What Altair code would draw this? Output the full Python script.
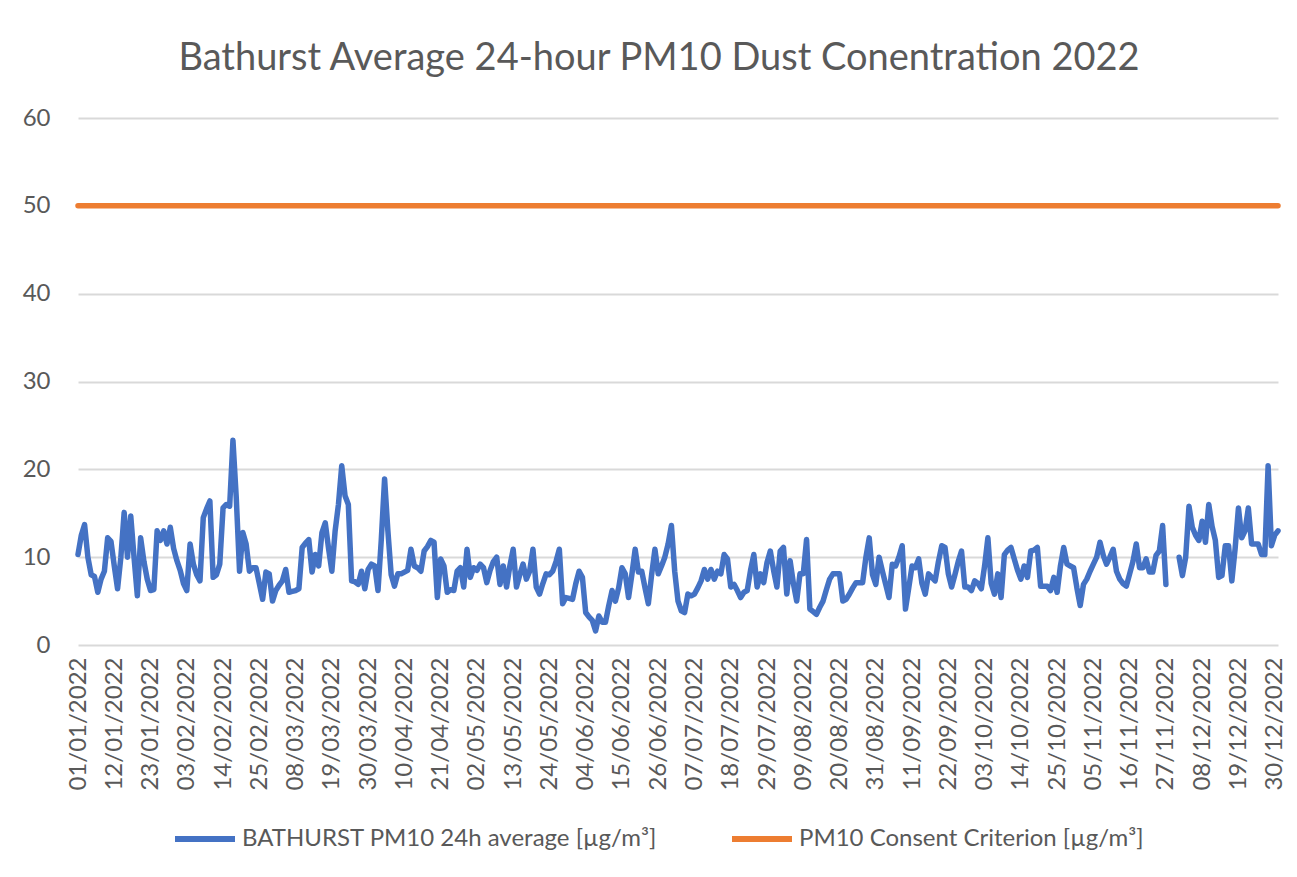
import altair as alt
import pandas as pd

# Daily PM10 24h averages (µg/m³); None = missing day
JAN = [10.3, 12.5, 13.7, 10, 8, 7.8, 6, 7.5, 8.4, 12.2, 11.8, 9, 6.4, 10, 15.1, 10,
       14.7, 10, 5.6, 12.2, 9.5, 7.5, 6.2, 6.3, 13, 11.9, 13, 11.5, 13.4, 11, 9.6]
FEB = [8.5, 7, 6.2, 11.5, 9.2, 8, 7.3, 14.5, 15.5, 16.4, 7.7, 8, 9.2, 15.6, 16, 15.8,
       23.3, 16.8, 8.4, 12.8, 11.5, 8.4, 8.8, 8.8, 7, 5.2, 8.3, 8.1]
MAR = [5, 6.2, 6.8, 7.3, 8.6, 6, 6.1, 6.2, 6.4, 11.1, 11.6, 12, 8.3, 10.3, 9, 12.8,
       13.9, 11, 8.4, 13, 16, 20.4, 17, 16, 7.3, 7.2, 6.9, 8.4, 6.4, 8.6, 9.2]
APR = [9, 6.2, 12, 18.9, 13, 8, 6.7, 8.1, 8.1, 8.3, 8.5, 10.9, 9, 8.8, 8.4, 10.7,
       11.2, 11.9, 11.7, 5.4, 9.8, 9, 6, 6.3, 6.2, 8.4, 8.8, 6.6, 10.9, 7.7]
MAY = [8.8, 8.5, 9.2, 8.8, 7.1, 8.5, 9.5, 10, 6.9, 9, 6.6, 9, 10.9, 6.6, 8, 9.2,
       7.5, 8.4, 10.9, 6.6, 5.8, 7, 8.1, 8, 8.4, 9.5, 10.9, 4.7, 5.4, 5.3, 5.2]
JUN = [7, 8.4, 7.7, 3.7, 3.2, 2.8, 1.6, 3.3, 2.6, 2.6, 4.5, 6.2, 5, 6.5, 8.8, 8.1,
       5.4, 8, 10.9, 8.3, 8.4, 6.5, 4.7, 8, 10.9, 8.1, 9, 10, 11.5, 13.6]
JUL = [8.4, 5, 3.9, 3.7, 5.8, 5.6, 5.8, 6.5, 7.3, 8.6, 7.5, 8.6, 7.5, 8.4, 8.1, 10.3,
       9.8, 6.6, 6.9, 6.2, 5.4, 6, 6.2, 8.5, 10.3, 6.6, 8.1, 7.1, 9.4, 10.7, 8.5]
AUG = [6.6, 10.7, 11.1, 5.8, 9.6, 7, 5, 8.1, 8.1, 12, 4.1, 3.8, 3.5, 4.3, 5, 6.3,
       7.5, 8.1, 8.1, 8.1, 5, 5.2, 5.8, 6.5, 7.1, 7.1, 7.1, 10, 12.2, 8, 6.9]
SEP = [10, 8.4, 6.9, 5.4, 9.2, 9, 10, 11.3, 4.1, 6.5, 9, 8.8, 9.8, 7, 5.8, 8.1,
       7.7, 7.3, 9.5, 11.3, 11.1, 8.1, 6.6, 8, 9.5, 10.7, 6.6, 6.6, 6.2, 7.3]
OCT = [7, 6.4, 9, 12.2, 7, 5.8, 8.1, 5.4, 10.3, 10.8, 11.1, 9.8, 8.5, 7.5, 9, 7.7,
       10.7, 10.8, 11.1, 6.7, 6.7, 6.7, 6.2, 7.7, 6, 9, 11.1, 9.2, 9, 8.8, 6.5]
NOV = [4.5, 6.9, 7.5, 8.4, 9.2, 10, 11.7, 10.2, 9.2, 10, 10.9, 8.4, 7.5, 7, 6.7, 8.1,
       9.5, 11.5, 8.8, 8.8, 9.8, 8.3, 8.3, 10.2, 10.7, 13.6, 6.9, None, None, None]
DEC = [10, 7.9, 10, 15.8, 13.4, 12.5, 11.9, 14.1, 11.7, 16, 13.5, 11.9, 7.7, 7.9, 11.3, 11.3,
       7.3, 11, 15.6, 12.2, 13, 15.6, 11.5, 11.5, 11.5, 10.3, 10.3, 20.4, 11.3, 12.5, 13]

CRITERION = 50.0
SERIES = ["BATHURST PM10 24h average [µg/m³]", "PM10 Consent Criterion [µg/m³]"]
COLORS = ["#4472C4", "#ED7D31"]
Y_TICKS = [0, 10, 20, 30, 40, 50, 60]
TITLE = "Bathurst Average 24-hour PM10 Dust Conentration 2022"

pm10 = JAN + FEB + MAR + APR + MAY + JUN + JUL + AUG + SEP + OCT + NOV + DEC
dates = pd.date_range("2022-01-01", "2022-12-31", freq="D")

rows = []
for d, v in zip(dates, pm10):
    rows.append({"date": d.strftime("%Y-%m-%d"), "value": v, "series": SERIES[0]})
for d in dates:
    rows.append({"date": d.strftime("%Y-%m-%d"), "value": CRITERION, "series": SERIES[1]})
df = pd.DataFrame(rows)


def ms(ts):
    return int(pd.Timestamp(ts).tz_localize("UTC").timestamp() * 1000)


tick_ms = [ms(d) for d in dates[::11]]
domain_ms = [ms(dates[0]), ms(dates[-1])]

FONT = "Lato"
TXT = "#595959"

chart = alt.Chart(df).mark_line(
    strokeWidth=5.5, strokeJoin="round", strokeCap="round",
    invalid="break-paths-show-domains",
).encode(
    x=alt.X("date:T",
            scale=alt.Scale(type="utc", domain=domain_ms, nice=False),
            axis=alt.Axis(values=tick_ms, format="%d/%m/%Y", labelAngle=270,
                          title=None, grid=False, domain=False, ticks=False,
                          labelFont=FONT, labelFontSize=24, labelColor=TXT,
                          labelPadding=12, labelOverlap=False, labelFlush=False)),
    y=alt.Y("value:Q",
            scale=alt.Scale(domain=[0, 60], nice=False),
            axis=alt.Axis(values=Y_TICKS, title=None, grid=True, gridColor="#D9D9D9",
                          gridWidth=2, domain=False, ticks=False,
                          labelFont=FONT, labelFontSize=24, labelColor=TXT,
                          labelPadding=28)),
    color=alt.Color("series:N",
                    scale=alt.Scale(domain=SERIES, range=COLORS),
                    legend=alt.Legend(title=None, orient="none", legendX=94, legendY=688,
                                      direction="horizontal", symbolType="stroke",
                                      symbolSize=3600, symbolStrokeWidth=6,
                                      labelFont=FONT, labelFontSize=24, labelColor=TXT,
                                      labelLimit=0, columnPadding=62, labelOffset=4)),
    order=alt.Order("date:T"),
).properties(
    width=1200,
    height=527,
    title=alt.TitleParams(TITLE, font=FONT, fontSize=38, fontWeight="normal",
                          color=TXT, anchor="middle", offset=28, dx=-19),
    autosize=alt.AutoSizeParams(type="none"),
    padding={"left": 70, "top": 110, "right": 11, "bottom": 225},
).configure_view(stroke=None)

chart.save("out.html", embed_options={"renderer": "svg", "actions": False})
